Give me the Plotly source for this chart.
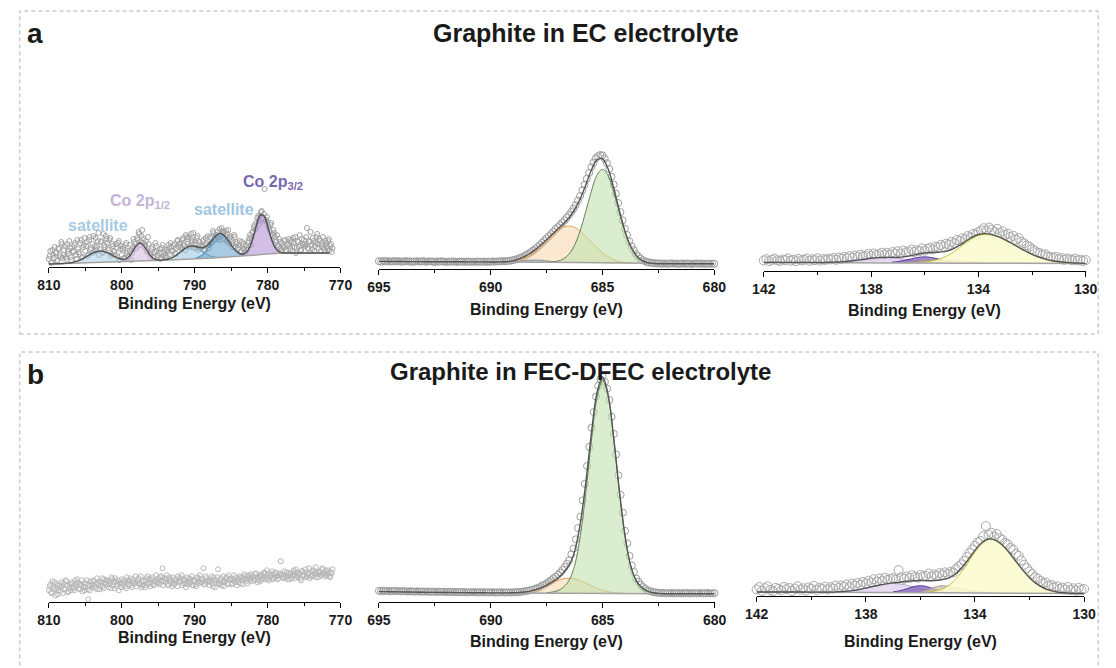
import numpy as np
import plotly.graph_objects as go

W, H = 1116, 668
FONT = "Liberation Sans, Arial, Helvetica, sans-serif"
INK = "#1a1a1a"

# ------------------------------------------------------------------
# Co 2p, graphite cycled in EC electrolyte (intensity, a.u.)
# two interleaved sweeps, 0.2 eV step each
# ------------------------------------------------------------------
co_ec_start, co_ec_step = 810.0, 0.2
co_ec_counts = [
    8, 16, 5, 12, 20, 14, 7, 18, 10, 23, 12, 21, 8, 16, 26, 10, 20, 15, 24, 8,
    18, 13, 27, 10, 22, 16, 25, 12, 30, 19, 23, 15, 29, 20, 34, 18, 26, 14, 22, 31,
    24, 17, 29, 13, 21, 15, 23, 10, 26, 18, 12, 20, 8, 24, 16, 10, 22, 14, 28, 18,
    19, 27, 33, 25, 37, 28, 22, 17, 30, 14, 13, 20, 10, 24, 16, 11, 18, 9, 22, 14,
    11, 17, 22, 13, 20, 16, 23, 13, 26, 20, 24, 18, 29, 21, 32, 23, 30, 20, 27, 34,
    26, 19, 31, 22, 18, 20, 27, 16, 24, 31, 22, 29, 25, 34, 27, 32, 28, 38, 33, 36,
    35, 31, 26, 37, 29, 28, 23, 32, 20, 25, 19, 26, 16, 23, 18, 21, 17, 26, 32, 29,
    35, 42, 39, 49, 46, 51, 56, 49, 78, 47, 45, 39, 42, 33, 37, 30, 25, 22, 28, 19,
    24, 19, 27, 16, 22, 21, 27, 16, 24, 30, 19, 25, 32, 17, 23, 27, 21, 39, 18, 25,
    22, 29, 16, 24, 33, 19, 26, 21, 30, 17, 24, 18, 28, 21, 15,
]
co_ec_start_b = 809.9
co_ec_counts_b = [
    11, 4, 17, 9, 14, 6, 19, 12, 25, 9, 17, 10, 23, 13, 19, 7, 16, 22, 12, 27,
    15, 24, 9, 20, 29, 21, 11, 27, 17, 14, 31, 21, 17, 26, 12, 25, 15, 33, 20, 28,
    19, 27, 11, 23, 16, 12, 19, 24, 7, 21, 18, 9, 22, 14, 11, 16, 7, 20, 25, 23,
    29, 35, 22, 31, 24, 20, 26, 15, 23, 11, 18, 9, 15, 21, 12, 14, 8, 19, 11, 17,
    9, 15, 19, 24, 16, 21, 14, 19, 27, 22, 20, 27, 23, 17, 30, 28, 21, 33, 25, 19,
    23, 29, 17, 25, 21, 26, 18, 29, 22, 19, 30, 24, 36, 28, 32, 35, 30, 27, 39, 34,
    28, 36, 33, 24, 31, 26, 20, 30, 23, 18, 22, 15, 25, 18, 14, 18, 24, 29, 22, 35,
    40, 37, 45, 51, 43, 55, 48, 53, 46, 50, 41, 36, 44, 31, 34, 27, 32, 20, 25, 17,
    21, 26, 17, 23, 28, 18, 25, 29, 20, 14, 26, 20, 17, 28, 22, 23, 30, 19, 26, 35,
    18, 26, 21, 30, 23, 28, 16, 24, 19, 26, 20, 26, 17, 23, 19,
]
co_ec_fit_start, co_ec_fit_step = 810.0, 0.5
co_ec_background = [
    3.0, 3.1, 3.2, 3.3, 3.4, 3.5, 3.6, 3.7, 3.8, 3.9,
    4.0, 4.1, 4.2, 4.3, 4.4, 4.5, 4.6, 4.7, 4.8, 4.9,
    5.0, 5.1, 5.2, 5.3, 5.4, 5.5, 5.7, 5.9, 6.1, 6.3,
    6.5, 6.6, 6.8, 6.9, 7.1, 7.2, 7.4, 7.5, 7.7, 7.8,
    8.0, 8.2, 8.4, 8.6, 8.8, 9.0, 9.2, 9.4, 9.6, 9.8,
    10.0, 10.3, 10.6, 10.9, 11.2, 11.4, 11.6, 12.0, 12.4, 12.8,
    13.1, 13.4, 13.6, 13.8, 13.9, 14.0, 14.0, 14.0, 14.0, 14.0,
    14.0, 14.0, 14.0, 14.0, 14.0, 14.0, 14.0, 14.0,
]
co_ec_sat_high_from = 808.0
co_ec_sat_high = [0.15, 0.35, 0.7, 1.4, 2.4, 3.9, 5.8, 7.8, 9.7, 11.0, 11.5,
                  11.0, 9.7, 7.8, 5.8, 3.9, 2.4, 1.4, 0.7, 0.35, 0.15]
co_ec_2p12_from = 800.5
co_ec_2p12 = [0.1, 0.4, 1.6, 4.6, 10.0, 15.9, 18.5, 15.9, 10.0, 4.6, 1.6, 0.4, 0.1]
co_ec_sat_mid_from = 794.5
co_ec_sat_mid = [0.2, 0.6, 1.3, 2.6, 4.7, 7.3, 10.1, 12.2, 13.0, 12.2, 10.1, 7.3,
                 4.7, 2.6, 1.3, 0.6, 0.2]
co_ec_sat_low_from = 790.0
co_ec_sat_low = [0.5, 1.5, 3.5, 7.0, 12.0, 17.6, 22.2, 24.0, 22.2, 17.6, 12.0, 7.0,
                 3.5, 1.5, 0.5]
co_ec_2p32_from = 783.5
co_ec_2p32 = [0.6, 2.5, 7.6, 17.6, 30.4, 39.5, 38.4, 27.9, 15.2, 6.2, 1.9, 0.4]

# ------------------------------------------------------------------
# F 1s, graphite cycled in EC electrolyte
# ------------------------------------------------------------------
f_ec_start, f_ec_step = 695.0, 0.1
f_ec_counts = [
    7.8, 7.4, 8.1, 7.6, 7.9, 7.3, 7.7, 8.0, 7.5, 7.8,
    7.2, 7.6, 7.9, 7.4, 7.7, 7.1, 7.5, 7.8, 7.3, 7.6,
    7.9, 7.2, 7.5, 7.7, 7.4, 7.0, 7.6, 7.3, 7.8, 7.4,
    7.1, 7.5, 7.2, 7.7, 7.3, 7.0, 7.4, 7.6, 7.1, 7.3,
    7.5, 7.0, 7.4, 7.2, 7.6, 7.1, 7.3, 7.5, 7.0, 7.4,
    7.2, 7.6, 7.3, 7.5, 7.7,
    7.6, 7.9, 7.7, 8.2, 8.3, 8.9, 9.4, 10.0, 11.0, 11.9,
    12.9, 14.2, 15.4, 17.0, 18.5, 20.3, 22.0, 24.0, 26.3, 28.4,
    30.6, 32.8, 35.0, 37.3, 39.6, 41.8, 44.0, 46.3, 48.6, 51.2,
    53.8, 57.0, 60.3, 64.0, 68.4, 73.0, 78.7, 84.3, 90.2, 96.0,
    101.9, 106.4, 110.6, 112.8, 114.0, 113.6, 110.4, 105.8, 100.0, 92.3,
    84.4, 75.3, 66.0, 56.9, 48.6, 40.3, 34.0, 27.7, 22.8, 18.8,
    14.9, 12.6, 10.3, 8.8, 7.8, 6.9, 6.5, 6.2, 5.9, 5.7,
    5.6,
    5.5, 5.3, 5.6, 5.2, 5.4, 5.7, 5.3, 5.5, 5.1, 5.4, 5.6, 5.2, 5.5,
    5.3, 5.0, 5.4, 5.6, 5.2, 5.5, 5.3, 5.1, 5.4, 5.2, 5.5, 5.3,
]
f_ec_fit_start, f_ec_fit_step = 695.0, 0.25
f_ec_background = [
    7.6, 7.6, 7.5, 7.5, 7.5, 7.4, 7.4, 7.4, 7.3, 7.3,
    7.3, 7.3, 7.2, 7.2, 7.2, 7.2, 7.1, 7.1, 7.1, 7.1,
    7.0, 7.0, 7.0, 7.0, 7.0,
    7.0, 6.95, 6.9, 6.9, 6.85, 6.8, 6.75, 6.7, 6.6, 6.5,
    6.4, 6.3, 6.15, 6.0, 5.85, 5.7, 5.6, 5.5, 5.4, 5.35,
    5.3, 5.25, 5.2, 5.2,
    5.2, 5.2, 5.2, 5.2, 5.2, 5.2, 5.2, 5.2, 5.2, 5.2, 5.2, 5.2,
]
f_ec_minor_from = 689.0
f_ec_minor = [0.3, 0.8, 1.4, 1.9, 2.0, 1.9, 1.4, 0.8, 0.3]
f_ec_high_from = 689.5
f_ec_high = [0.25, 0.55, 1.1, 2.2, 4.0, 6.7, 10.5, 15.4, 21.0, 26.7, 31.8, 35.3, 36.5,
             35.3, 31.8, 26.7, 21.0, 15.4, 10.5, 6.7, 4.0, 2.2, 1.1, 0.55, 0.25]
f_ec_main_from = 687.5
f_ec_main = [0.1, 0.4, 1.25, 3.4, 8.3, 17.4, 31.9, 51.2, 71.7, 87.9, 94.0,
             87.9, 71.7, 51.2, 31.9, 17.4, 8.3, 3.4, 1.25, 0.4, 0.1]

# ------------------------------------------------------------------
# P 2p, graphite cycled in EC electrolyte
# ------------------------------------------------------------------
p_ec_start, p_ec_step = 142.0, 0.1
p_ec_counts = [
    10.2, 11.5, 9.6, 10.8, 12.0, 10.4, 9.8, 11.2, 10.6, 12.3,
    10.0, 11.0, 9.5, 11.8, 10.3, 10.9, 12.1, 9.9, 11.4, 10.5,
    12.4, 10.1, 11.6, 10.8, 12.0,
    11.3, 12.7, 10.9, 13.2, 12.0, 13.8, 12.6, 14.5, 13.1, 15.2,
    13.9, 16.0, 14.4, 15.1, 16.8, 14.7, 17.2, 15.6, 16.4, 18.0,
    16.2, 17.9, 15.8, 18.6, 17.1, 19.4, 16.9, 20.2, 18.3, 19.0,
    21.1, 18.7, 20.5, 19.6, 22.3, 20.0, 21.8, 23.0, 21.2, 24.1,
    23.5, 25.8, 24.2, 27.0, 26.1, 28.9, 27.5, 30.8, 29.6, 32.4,
    31.2, 34.6, 33.3, 36.8, 35.9, 38.7,
    40.2, 42.5, 39.6, 43.1, 41.0, 38.8, 41.9, 37.5, 39.3, 35.8,
    37.0, 33.6, 34.9, 31.2, 32.6, 28.9, 27.5, 25.3, 24.0, 21.6,
    19.8, 18.2, 17.5, 15.9, 16.4, 14.1, 13.6, 12.9, 13.8, 11.7,
    12.5, 10.9, 12.2, 11.4, 10.6, 12.0, 10.3, 11.1, 9.8, 10.7,
]
p_ec_fit_start, p_ec_fit_step = 142.0, 0.25
p_ec_background = [
    8.3, 8.3, 8.3, 8.3, 8.3, 8.3, 8.3, 8.3, 8.25, 8.25,
    8.25, 8.2, 8.2, 8.2, 8.15, 8.15, 8.1, 8.1, 8.05, 8.0,
    8.0, 7.95, 7.9, 7.9, 7.85, 7.8, 7.75, 7.7, 7.65, 7.6,
    7.55, 7.5, 7.45, 7.4, 7.4, 7.35, 7.35, 7.3, 7.3, 7.3,
    7.3, 7.3, 7.3, 7.3, 7.3, 7.3, 7.3, 7.3, 7.3,
]
p_ec_light_from = 139.5
p_ec_light = [0.23, 0.47, 0.9, 1.55, 2.4, 3.35, 4.3, 4.95, 5.2, 4.95, 4.3, 3.35,
              2.4, 1.55, 0.9, 0.47, 0.23]
p_ec_dark_from = 137.25
p_ec_dark = [0.4, 1.1, 2.4, 4.0, 5.4, 6.0, 5.4, 4.0, 2.4, 1.1, 0.4]
p_ec_taupe_from = 136.75
p_ec_taupe = [0.35, 0.75, 1.4, 2.1, 2.75, 3.0, 2.9, 2.65, 2.25, 1.8, 1.4, 1.0,
              0.65, 0.4, 0.25]
p_ec_main_from = 136.25
p_ec_main = [0.4, 0.9, 1.8, 3.5, 6.1, 9.8, 14.5, 19.7, 24.4, 27.8, 29.0, 28.3,
             26.4, 23.4, 19.9, 16.1, 12.4, 9.1, 6.4, 4.3, 2.7, 1.7, 1.0, 0.5, 0.3]

# ------------------------------------------------------------------
# Co 2p, graphite cycled in FEC-DFEC electrolyte (no Co signal)
# ------------------------------------------------------------------
co_fec_start, co_fec_step = 810.0, 0.2
co_fec_counts = [
    12, 18, 9, 15, 20, 14, 8, 17, 11, 16, 19, 13, 21, 10, 15, 12, 18, 14, 22, 16,
    20, 13, 17, 11, 19, 15, 22, 3, 12, 18, 17, 21, 14, 24, 19, 13, 20, 16, 23, 18,
    22, 15, 19, 25, 17, 14, 21, 18, 12, 20, 23, 17, 20, 14, 22, 18, 24, 15, 21, 19,
    16, 22, 19, 26, 17, 21, 15, 24, 18, 23, 19, 25, 17, 22, 20, 24, 18, 26, 34, 21,
    20, 27, 17, 23, 19, 25, 18, 22, 16, 24, 21, 27, 19, 23, 15, 18, 24, 20, 26, 17,
    22, 16, 25, 19, 23, 20, 34, 18, 24, 21, 17, 23, 19, 25, 15, 22, 33, 18, 24, 20,
    16, 21, 25, 18, 23, 24, 19, 27, 21, 17, 20, 26, 22, 18, 28, 23, 19, 27, 24, 21,
    26, 22, 29, 20, 25, 21, 28, 24, 30, 23, 27, 22, 26, 31, 24, 25, 29, 23, 27, 41,
    28, 24, 25, 30, 26, 23, 29, 26, 32, 24, 30, 25, 28, 22, 31, 27, 33, 26, 29, 24,
    31, 26, 29, 35, 28, 25, 30, 27, 33, 29, 32, 27, 30, 25, 29,
]
co_fec_start_b = 809.9
co_fec_counts_b = [
    16, 10, 21, 13, 7, 18, 12, 15, 20, 9, 14, 22, 17, 11, 18, 20, 15, 12, 19, 23,
    14, 18, 22, 16, 12, 19, 13, 17, 21, 15, 22, 16, 19, 13, 21, 17, 24, 14, 20, 22,
    18, 21, 14, 23, 20, 24, 16, 22, 19, 15, 19, 22, 16, 25, 18, 21, 17, 23, 19, 26,
    20, 24, 18, 15, 22, 17, 22, 26, 20, 16, 23, 18, 21, 27, 19, 20, 25, 22, 17, 24,
    23, 18, 25, 21, 16, 19, 23, 20, 26, 21, 24, 17, 22, 19, 25, 21, 19, 23, 17, 22,
    18, 24, 21, 27, 20, 23, 18, 26, 20, 22, 21, 26, 16, 22, 19, 25, 19, 22, 17, 26,
    20, 24, 19, 27, 22, 18, 23, 20, 25, 22, 24, 19, 25, 23, 26, 21, 26, 22, 28, 25,
    23, 28, 25, 22, 27, 26, 23, 29, 25, 32, 24, 29, 27, 23, 28, 30, 26, 24, 29, 27,
    25, 31, 27, 23, 29, 28, 24, 30, 27, 33, 26, 29, 24, 31, 27, 30, 25, 28, 34, 26,
    27, 32, 29, 25, 30, 31, 27, 34, 28, 26, 28, 32, 26, 30, 33,
]

# ------------------------------------------------------------------
# F 1s, graphite cycled in FEC-DFEC electrolyte
# ------------------------------------------------------------------
f_fec_start, f_fec_step = 695.0, 0.1
f_fec_counts = [
    11.5, 11.0, 11.6, 11.2, 11.4, 10.9, 11.3, 11.5, 11.0, 11.2,
    10.8, 11.3, 11.0, 10.7, 11.1, 10.9, 10.6, 11.0, 10.8, 10.5,
    10.9, 10.6, 10.8, 10.4, 10.7, 10.5, 10.3, 10.7, 10.4, 10.6,
    10.2, 10.5, 10.3, 10.1, 10.4, 10.2, 10.5, 10.0, 10.3, 10.1,
    9.9, 10.2, 10.0, 10.3, 9.8, 10.1, 9.9, 10.2, 9.8, 10.0,
    9.9, 10.1, 9.7, 10.0, 9.8, 10.1, 9.7, 9.9, 10.0, 9.8,
    10.0, 10.2, 10.1, 10.5, 10.6, 11.0, 11.3, 11.8, 12.3, 12.9,
    13.6, 14.4, 15.3, 16.9, 17.8, 19.0, 20.6, 22.0, 23.9, 25.6,
    27.4, 29.8, 32.3, 35.2, 38.6, 42.0, 47.9, 53.8, 63.0, 74.3,
    85.6, 102.0, 118.5, 136.3, 155.4, 174.5, 190.2, 205.8, 216.4, 223.0,
    226.0, 220.5, 213.6, 202.3, 185.5, 168.4, 147.8, 127.0, 107.6, 89.7,
    71.5, 59.0, 46.4, 36.8, 30.3, 23.8, 20.7, 17.6, 15.2, 13.6,
    12.1, 11.3, 10.6, 10.1, 9.8, 9.5,
    9.2, 9.5, 8.9, 9.3, 9.0, 9.4, 8.8, 9.1, 9.3, 8.9, 9.2, 9.0, 9.4,
    8.8, 9.1, 9.3, 8.9, 9.0, 9.2, 8.8, 9.1, 9.3, 8.9, 9.0, 9.2,
]
f_fec_fit_start, f_fec_fit_step = 695.0, 0.25
f_fec_background = [
    10.8, 10.7, 10.6, 10.5, 10.4, 10.3, 10.2, 10.1, 10.0, 9.95,
    9.9, 9.85, 9.8, 9.75, 9.7, 9.65, 9.6, 9.55, 9.5, 9.5,
    9.45, 9.45, 9.4, 9.4, 9.4,
    9.4, 9.4, 9.35, 9.35, 9.3, 9.3, 9.25, 9.2, 9.15, 9.1,
    9.05, 9.0, 8.95, 8.9, 8.85, 8.8, 8.75, 8.7, 8.7, 8.65,
    8.65, 8.6, 8.6, 8.6,
    8.6, 8.6, 8.6, 8.6, 8.6, 8.6, 8.6, 8.6, 8.6, 8.6, 8.6, 8.6,
]
f_fec_high_from = 689.0
f_fec_high = [0.2, 0.45, 0.9, 1.8, 3.2, 5.1, 7.5, 10.2, 12.6, 14.4, 15.0,
              14.4, 12.6, 10.2, 7.5, 5.1, 3.2, 1.8, 0.9, 0.45, 0.2]
f_fec_main_from = 687.5
f_fec_main = [0.3, 1.0, 2.5, 6.0, 13.0, 28.0, 57.5, 101.5, 153.3, 196.2, 213.0,
              196.2, 153.3, 101.5, 57.5, 28.0, 13.0, 6.0, 2.5, 1.0, 0.3]

# ------------------------------------------------------------------
# P 2p, graphite cycled in FEC-DFEC electrolyte
# ------------------------------------------------------------------
p_fec_start, p_fec_step = 142.0, 0.1
p_fec_counts = [
    6.5, 8.9, 5.2, 7.8, 9.6, 6.1, 4.8, 8.2, 7.0, 5.6,
    9.1, 6.8, 8.0, 5.0, 7.4, 9.8, 6.3, 7.7, 5.5, 8.6,
    7.2, 10.1, 6.0, 8.4, 7.1, 9.3, 6.6, 8.8, 7.5, 10.4,
    8.1, 10.6, 9.2, 11.5, 8.8, 12.3, 10.4, 13.0, 11.2, 14.1,
    12.6, 15.3, 13.4, 16.8, 14.2, 17.5, 15.0, 18.2, 16.1, 17.0,
    17.8, 16.4, 25.9, 18.9, 17.2, 19.6, 18.0, 20.8, 19.1, 18.4,
    21.0, 19.7, 20.3, 22.5, 19.4, 21.6, 20.2, 22.9, 21.4, 23.6,
    22.0, 24.1, 23.5, 27.0, 29.4, 31.6, 35.2, 38.9, 43.0, 46.4,
    50.2, 53.6, 55.1, 59.8, 70.0, 61.5, 63.2, 59.4, 62.0, 57.8,
    56.3, 53.0, 51.8, 48.1, 46.5, 42.0, 40.3, 35.6, 31.2, 27.9,
    24.6, 22.0, 18.7, 17.3, 15.1, 12.8, 13.5, 10.2, 11.0, 8.7,
    9.6, 7.2, 8.4, 6.5, 9.0, 6.0, 7.7, 5.4, 8.1, 6.3, 7.0,
]
p_fec_fit_start, p_fec_fit_step = 142.0, 0.25
p_fec_background = [
    4.0, 4.0, 4.0, 4.0, 4.0, 3.95, 3.95, 3.95, 3.9, 3.9,
    3.9, 3.85, 3.85, 3.8, 3.8, 3.75, 3.75, 3.7, 3.65, 3.6,
    3.55, 3.5, 3.45, 3.4, 3.35, 3.3, 3.25, 3.2, 3.15, 3.1,
    3.05, 3.0, 2.95, 2.9, 2.85, 2.8, 2.75, 2.7, 2.65, 2.6,
    2.6, 2.55, 2.55, 2.5, 2.5, 2.5, 2.5, 2.5, 2.5,
]
p_fec_light_from = 139.0
p_fec_light = [0.4, 0.8, 1.6, 2.65, 4.15, 5.8, 7.4, 8.55, 9.0, 8.55, 7.4, 5.8,
               4.15, 2.65, 1.6, 0.8, 0.4]
p_fec_dark_from = 137.0
p_fec_dark = [0.6, 1.75, 3.8, 6.0, 7.0, 6.0, 3.8, 1.75, 0.6]
p_fec_taupe_from = 136.0
p_fec_taupe = [1.0, 2.7, 5.3, 7.0, 6.7, 5.7, 4.2, 2.8, 1.6, 0.85, 0.35]
p_fec_main_from = 135.75
p_fec_main = [0.6, 1.5, 3.3, 6.7, 12.4, 20.6, 30.6, 41.1, 49.5, 53.8, 53.0, 48.3,
              40.8, 32.0, 23.3, 15.7, 9.8, 5.7, 3.1, 1.5, 0.7, 0.3]

# axis tick labels
co_ticks = [810, 800, 790, 780, 770]
f_ticks = [695, 690, 685, 680]
p_ticks = [142, 138, 134, 130]

# component colours (fill, outline)
C_SAT_HIGH = ("rgba(172,207,230,0.55)", "#87b6d4")
C_2P12 = ("rgba(214,190,226,0.62)", "#a78abd")
C_SAT_MID = ("rgba(150,196,226,0.55)", "#6aa2c8")
C_SAT_LOW = ("rgba(98,158,204,0.55)", "#3b7fb3")
C_2P32 = ("rgba(184,150,214,0.62)", "#7b5aad")
C_F_HIGH = ("rgba(247,204,150,0.45)", "#e2a04f")
C_F_MAIN = ("rgba(192,226,172,0.58)", "#667f5c")
C_F_MINOR = ("rgba(90,150,200,0.55)", "#2f6ea6")
C_P_LIGHT = ("rgba(221,207,236,0.75)", "#c0aad6")
C_P_DARK = ("rgba(128,98,182,0.75)", "#5a3d9c")
C_P_TAUPE = ("rgba(204,192,188,0.75)", "#a8968f")
C_P_MAIN = ("rgba(250,250,205,0.85)", "#c8c23a")


def fx(px):
    return px / W


def fy(py):
    return 1 - py / H


def energies(start, step, n):
    return start - step * np.arange(n)


def ax_names(k):
    return ("x" if k == 1 else f"x{k}"), ("y" if k == 1 else f"y{k}")


fig = go.Figure()


def add_points(k, start, step, counts, size, color):
    xa, ya = ax_names(k)
    fig.add_trace(go.Scatter(
        x=energies(start, step, len(counts)), y=counts, mode="markers",
        xaxis=xa, yaxis=ya, cliponaxis=False, showlegend=False, hoverinfo="skip",
        marker=dict(symbol="circle-open", size=size, color=color, line=dict(width=1)),
    ))


def add_fit(k, start, step, background, components, bg_color="#a3a3a3"):
    xa, ya = ax_names(k)
    x = energies(start, step, len(background))
    bg = np.asarray(background, dtype=float)
    total = bg.copy()
    for comp_from, net, (fill, line) in components:
        i0 = int(round((start - comp_from) / step))
        net = np.asarray(net, dtype=float)
        sl = slice(i0, i0 + len(net))
        total[sl] += net
        fig.add_trace(go.Scatter(
            x=x[sl], y=bg[sl], mode="lines", xaxis=xa, yaxis=ya,
            line=dict(width=0, shape="spline"), showlegend=False, hoverinfo="skip"))
        fig.add_trace(go.Scatter(
            x=x[sl], y=bg[sl] + net, mode="lines", xaxis=xa, yaxis=ya,
            fill="tonexty", fillcolor=fill,
            line=dict(color=line, width=1, shape="spline", smoothing=1.0),
            showlegend=False, hoverinfo="skip"))
    fig.add_trace(go.Scatter(
        x=x, y=bg, mode="lines", xaxis=xa, yaxis=ya,
        line=dict(color=bg_color, width=1.5), showlegend=False, hoverinfo="skip"))
    fig.add_trace(go.Scatter(
        x=x, y=total, mode="lines", xaxis=xa, yaxis=ya,
        line=dict(color="#555555", width=1.4, shape="spline", smoothing=1.0),
        showlegend=False, hoverinfo="skip"))


# panel a: EC electrolyte
add_points(1, co_ec_start, co_ec_step, co_ec_counts, 5, "#a2a2a2")
add_points(1, co_ec_start_b, co_ec_step, co_ec_counts_b, 5, "#a2a2a2")
add_fit(1, co_ec_fit_start, co_ec_fit_step, co_ec_background, [
    (co_ec_sat_high_from, co_ec_sat_high, C_SAT_HIGH),
    (co_ec_2p12_from, co_ec_2p12, C_2P12),
    (co_ec_sat_mid_from, co_ec_sat_mid, C_SAT_MID),
    (co_ec_sat_low_from, co_ec_sat_low, C_SAT_LOW),
    (co_ec_2p32_from, co_ec_2p32, C_2P32),
])
add_points(2, f_ec_start, f_ec_step, f_ec_counts, 7, "#9c9c9c")
add_fit(2, f_ec_fit_start, f_ec_fit_step, f_ec_background, [
    (f_ec_minor_from, f_ec_minor, C_F_MINOR),
    (f_ec_high_from, f_ec_high, C_F_HIGH),
    (f_ec_main_from, f_ec_main, C_F_MAIN),
])
add_points(3, p_ec_start, p_ec_step, p_ec_counts, 9, "#a8a8a8")
add_fit(3, p_ec_fit_start, p_ec_fit_step, p_ec_background, [
    (p_ec_light_from, p_ec_light, C_P_LIGHT),
    (p_ec_dark_from, p_ec_dark, C_P_DARK),
    (p_ec_taupe_from, p_ec_taupe, C_P_TAUPE),
    (p_ec_main_from, p_ec_main, C_P_MAIN),
])

# panel b: FEC-DFEC electrolyte
add_points(4, co_fec_start, co_fec_step, co_fec_counts, 5, "#b8b8b8")
add_points(4, co_fec_start_b, co_fec_step, co_fec_counts_b, 5, "#b8b8b8")
add_points(5, f_fec_start, f_fec_step, f_fec_counts, 7, "#9c9c9c")
add_fit(5, f_fec_fit_start, f_fec_fit_step, f_fec_background, [
    (f_fec_high_from, f_fec_high, C_F_HIGH),
    (f_fec_main_from, f_fec_main, C_F_MAIN),
])
add_points(6, p_fec_start, p_fec_step, p_fec_counts, 9, "#a8a8a8")
add_fit(6, p_fec_fit_start, p_fec_fit_step, p_fec_background, [
    (p_fec_light_from, p_fec_light, C_P_LIGHT),
    (p_fec_dark_from, p_fec_dark, C_P_DARK),
    (p_fec_taupe_from, p_fec_taupe, C_P_TAUPE),
    (p_fec_main_from, p_fec_main, C_P_MAIN),
])

# subplot frames in pixels: left, right, top, bottom (axis line)
frames = {
    1: (37.7, 335.7, 45, 267.0),
    2: (375.0, 717.7, 45, 269.0),
    3: (768.3, 1097.3, 45, 270.7),
    4: (37.7, 335.7, 370, 602.3),
    5: (375.0, 718.0, 370, 602.3),
    6: (761.0, 1095.7, 370, 596.0),
}
xspec = {
    1: ([810, 770], co_ticks, 5),
    2: ([695, 680], f_ticks, 2.5),
    3: ([142, 130], p_ticks, 2),
    4: ([810, 770], co_ticks, 5),
    5: ([695, 680], f_ticks, 2.5),
    6: ([142, 130], p_ticks, 2),
}

layout = dict(
    width=W, height=H, margin=dict(l=0, r=0, t=0, b=0),
    paper_bgcolor="white", plot_bgcolor="rgba(0,0,0,0)",
    showlegend=False, font=dict(family=FONT, color=INK),
)
for k, (l, r, t, b) in frames.items():
    rng, ticks, minor_step = xspec[k]
    xkey = "xaxis" if k == 1 else f"xaxis{k}"
    ykey = "yaxis" if k == 1 else f"yaxis{k}"
    xa, ya = ax_names(k)
    layout[xkey] = dict(
        domain=[fx(l), fx(r)], range=rng, autorange=False, anchor=ya,
        showline=True, linecolor="black", linewidth=1.3, mirror=False,
        ticks="outside", ticklen=5, tickwidth=1.3, tickcolor="black",
        tickvals=ticks, ticktext=[str(v) for v in ticks],
        tickfont=dict(family=FONT, size=14, color=INK, weight="bold"),
        minor=dict(ticks="outside", ticklen=3, tickwidth=1.2, tickcolor="black",
                   dtick=minor_step, tick0=rng[1], showgrid=False),
        showgrid=False, zeroline=False, fixedrange=True,
    )
    layout[ykey] = dict(
        domain=[fy(b), fy(t)], range=[0, b - t], autorange=False, anchor=xa,
        visible=False, fixedrange=True,
    )

annotations = []


def label(text, px, py, size, color=INK):
    annotations.append(dict(
        text=text, x=fx(px), y=fy(py), xref="paper", yref="paper",
        xanchor="center", yanchor="middle", showarrow=False,
        font=dict(family=FONT, size=size, color=color, weight="bold"),
    ))


label("a", 24, 33, 28)
label("b", 24, 374, 28)
label("Graphite in EC electrolyte", 587, 33, 25)
label("Graphite in FEC-DFEC electrolyte", 581, 372, 24)

axis_title = "Binding Energy (eV)"
for px, py in [(186.7, 303), (546.3, 310), (932.8, 311),
               (186.7, 637.7), (546.5, 641.7), (928.3, 641.7)]:
    label(axis_title, px, py, 16)

label("satellite", 88, 225.5, 16, "#a6cae2")
label("Co 2p<sub>1/2</sub>", 131, 201, 16, "#c4b4d4")
label("satellite", 216.3, 209.5, 16, "#a0c6e0")
label("Co 2p<sub>3/2</sub>", 267, 182.5, 16, "#7a68ae")

layout["annotations"] = annotations

# dashed frames around the two rows
box_line = dict(color="#b0b0b0", width=1, dash="4px,3px")
layout["shapes"] = [
    dict(type="rect", xref="paper", yref="paper", x0=fx(8), x1=fx(1110),
         y0=fy(334), y1=fy(11), line=box_line, fillcolor="rgba(0,0,0,0)", layer="below"),
    dict(type="rect", xref="paper", yref="paper", x0=fx(8), x1=fx(1110),
         y0=fy(700), y1=fy(352), line=box_line, fillcolor="rgba(0,0,0,0)", layer="below"),
]

fig.update_layout(**layout)
fig.write_html("out.html")
